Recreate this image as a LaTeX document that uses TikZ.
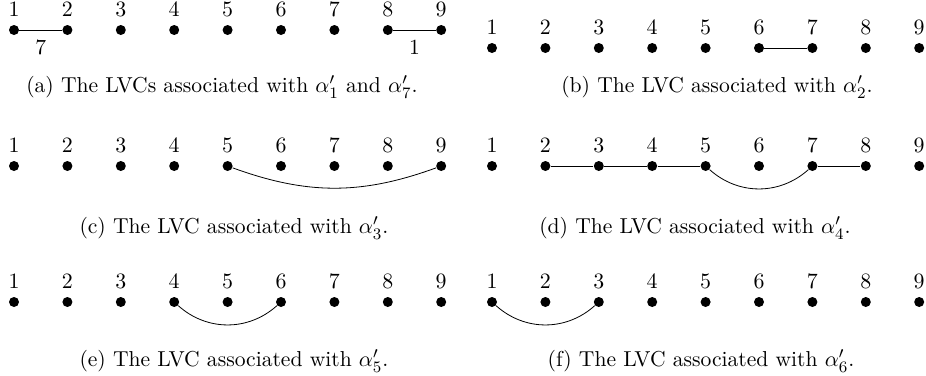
\documentclass[tikz,border=0pt]{standalone}
\usepackage{amsmath}
\usepackage{tikz}
\usetikzlibrary{positioning}

\begin{document}
\begin{tikzpicture}[
  x=0.5pt,y=-0.5pt,
  every node/.style={font=\fontsize{10.8}{13}\selectfont},
  vtx/.style={circle,fill=black,inner sep=0pt,minimum size=5pt,label={[label distance=0.5pt]above:#1}},
  lvc/.style={thin},
  subcap/.style={inner sep=0pt}
]
\useasboundingbox (0,0) rectangle (926,375);
% one row of nine points per panel
\foreach \p/\x/\y in {a/14/30,b/492/48,c/14/166,d/492/166,e/14/302,f/492/302}
  \foreach \i in {1,...,9}
    \node[vtx=$\i$] (\p\i) at ({\x+53.4*(\i-1)},\y) {};
% (a)
\draw[lvc] (a1) -- node[below=1.5pt] {7} (a2);
\draw[lvc] (a8) -- node[below=1.5pt] {1} (a9);
\node[subcap] (capa) at (222,87) {(a) The LVCs associated with $\alpha'_1$ and $\alpha'_7$.};
% (b)
\draw[lvc] (b6) -- (b7);
\node[subcap] (capb) at (717,87) {(b) The LVC associated with $\alpha'_2$.};
% (c)
\draw[lvc] (c5) to[bend right=20] (c9);
\node[subcap] (capc) at (234,228) {(c) The LVC associated with $\alpha'_3$.};
% (d)
\draw[lvc] (d2) -- (d3) -- (d4) -- (d5);
\draw[lvc] (d5) to[bend right=42] (d7);
\draw[lvc] (d7) -- (d8);
\node[subcap] (capd) at (695,228) {(d) The LVC associated with $\alpha'_4$.};
% (e)
\draw[lvc] (e4) to[bend right=42] (e6);
\node[subcap] (cape) at (234,361) {(e) The LVC associated with $\alpha'_5$.};
% (f)
\draw[lvc] (f1) to[bend right=42] (f3);
\node[subcap] (capf) at (701,361) {(f) The LVC associated with $\alpha'_6$.};
\end{tikzpicture}
\end{document}
